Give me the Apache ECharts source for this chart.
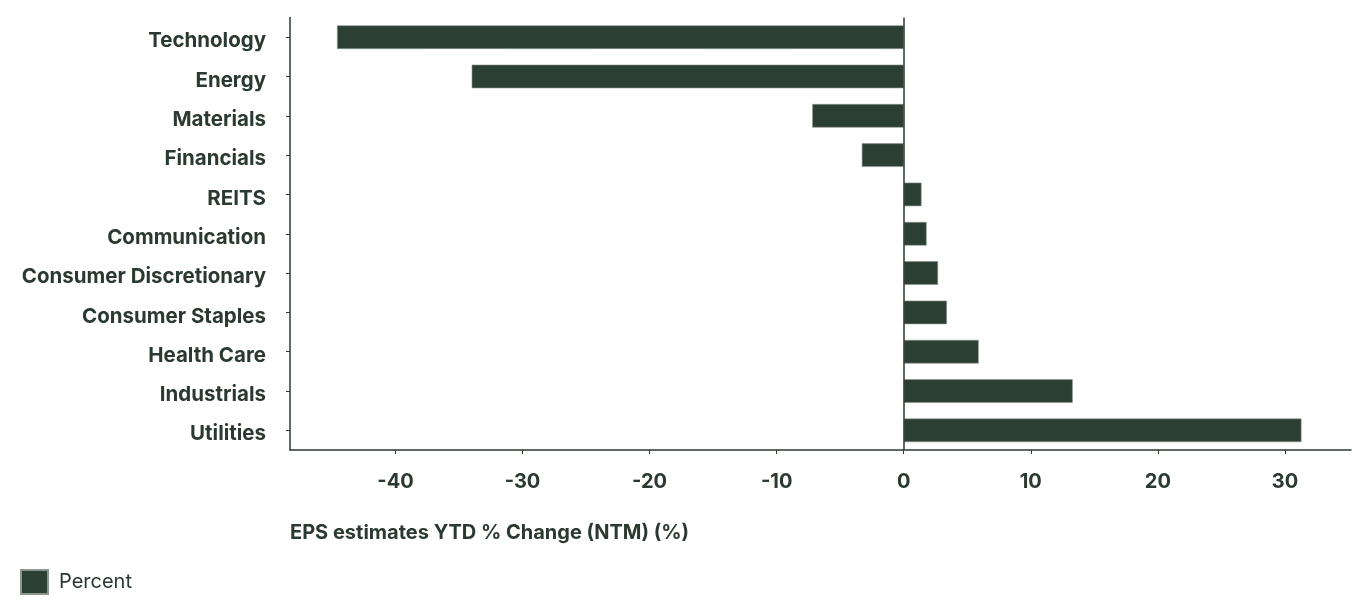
<!DOCTYPE html>
<html>
<head>
<meta charset="utf-8">
<script src="https://cdn.jsdelivr.net/npm/echarts@6/dist/echarts.min.js"></script>
<style>
html,body{margin:0;padding:0;background:#fff;}
#c{width:1367px;height:602px;}
</style>
</head>
<body>
<div id="c"></div>
<script>
const categories = ["Technology","Energy","Materials","Financials","REITS","Communication","Consumer Discretionary","Consumer Staples","Health Care","Industrials","Utilities"];
const percentValues = [-44.6,-34.0,-7.2,-3.3,1.4,1.8,2.7,3.4,5.9,13.3,31.3];
const xTicks = [-40,-30,-20,-10,0,10,20,30];
const seriesName = "Percent";
const axisTitle = "EPS estimates YTD % Change (NTM) (%)";

const barColor = '#2c3f33';
const textColor = '#2b3a30';
const fontFamily = 'Inter, Roboto, sans-serif';

const chart = echarts.init(document.getElementById('c'));
chart.setOption({
  animation: false,
  title: {
    text: axisTitle,
    left: 285, top: 518,
    textStyle: {fontFamily, fontSize: 20, fontWeight: 'bold', color: textColor}
  },
  legend: {
    data: [seriesName],
    left: 15, top: 564,
    itemWidth: 27, itemHeight: 24, itemGap: 10,
    icon: 'rect',
    textStyle: {fontFamily, fontSize: 20, color: textColor, padding: [2, 0, 0, 6]}
  },
  grid: {left: 290, right: 16, top: 17.5, bottom: 152, containLabel: false},
  xAxis: {
    type: 'value',
    min: -48.3, max: 35.2,
    axisLine: {show: true, lineStyle: {color: textColor, width: 1.5}},
    axisTick: {show: true, length: 4, lineStyle: {color: textColor}, customValues: xTicks},
    axisLabel: {customValues: xTicks, fontFamily, fontSize: 20, fontWeight: 'bold', color: textColor, margin: 22},
    splitLine: {show: false}
  },
  yAxis: {
    type: 'category',
    data: categories,
    inverse: true,
    axisLine: {show: true, onZero: false, lineStyle: {color: textColor, width: 1.5}},
    axisTick: {show: true, alignWithLabel: true, length: 4, lineStyle: {color: textColor}},
    axisLabel: {
      margin: 24,
      formatter: v => '{a|' + v + '}',
      rich: {a: {fontFamily, fontSize: 20.5, fontWeight: 'bold', color: textColor, padding: [8, 0, 0, 0]}}
    }
  },
  series: [{
    name: seriesName,
    type: 'bar',
    data: percentValues,
    barWidth: '60%',
    itemStyle: {color: barColor, borderColor: '#8a968d', borderWidth: 0.6},
    markLine: {
      silent: true, symbol: 'none',
      label: {show: false},
      lineStyle: {color: textColor, type: 'solid', width: 1.5},
      data: [{xAxis: 0}]
    }
  }]
});
</script>
</body>
</html>
